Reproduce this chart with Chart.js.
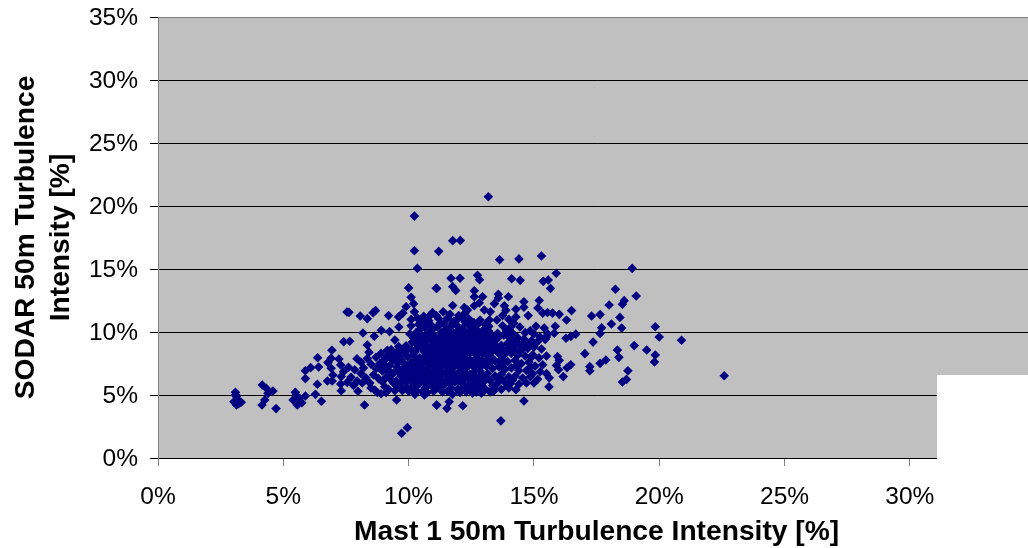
<!DOCTYPE html>
<html>
<head>
  <title>Turbulence Intensity</title>
  <script src="https://cdn.jsdelivr.net/npm/chart.js"></script>
<style>
html, body {
  margin: 0;
  padding: 0;
  background: #ffffff;
  overflow: hidden;
}

#wrap {
  position: relative;
  width: 1028px;
  height: 548px;
  overflow: hidden;
}

#blank {
  position: absolute;
  left: 937px;
  top: 375px;
  width: 91px;
  height: 173px;
  background: #ffffff;
}
</style>
</head>
<body>

  <div id="wrap">
    <canvas id="scatterChart" width="1040" height="548" style="width:1040px;height:548px"></canvas>
    <div id="blank"></div>
  </div>

  <script>
    const xAxisTitle = 'Mast 1 50m Turbulence Intensity [%]';
    const yAxisTitle = ['SODAR 50m Turbulence', 'Intensity [%]'];
    const xTicks = [0, 5, 10, 15, 20, 25, 30, 35];
    const yTicks = [0, 5, 10, 15, 20, 25, 30, 35];

    // [mast %, sodar %]
    const leftTail = [
      [3.09,5.21],[3.13,4.87],[3.32,4.42],[3.13,4.21],[3.03,4.47],[3.19,4.6],[3.1,5.0],[3.22,4.3],
      [4.16,5.79],[4.32,5.53],[4.59,5.32],[4.39,5.13],[4.26,4.6],[4.15,4.21],[4.71,3.92],
      [5.48,5.21],[5.39,4.6],[5.56,4.21],[5.74,4.39],[5.65,4.74],[5.88,4.92],[5.5,4.95],
      [6.28,5.05],[6.52,4.5],[6.36,5.85],[5.88,6.3],[5.88,6.93],[6.09,7.17],[6.41,7.22],[6.37,7.96],
      [6.94,8.55],[6.91,7.91],[6.78,7.57],[7.22,7.86],[7.29,7.38],[6.91,7.12],[6.98,6.59],[6.76,6.11],
      [6.95,6.11],[7.31,6.46],[7.29,5.87],[7.31,5.34],[7.41,9.23],[7.65,9.26],[7.94,7.88],[7.54,11.59],
      [7.62,11.56],[8.07,11.27],[8.35,11.06],[8.68,11.7],[8.58,11.53],[8.18,9.92],[8.63,9.66],[8.91,10.13],
      [8.35,8.97],[8.42,8.4],[8.35,7.9],[8.5,7.45],[8.2,7.15],[7.85,7.0],[7.6,7.2],[7.4,6.85],[7.7,6.4],
      [7.95,6.1],[8.15,5.95],[7.98,5.3],[8.5,5.55],[8.75,5.2],[8.65,5.4],[8.9,5.1],[9.05,5.65],[9.1,5.2],
      [9.2,5.45],[8.24,4.21],[9.52,4.6],[9.95,2.41],[9.72,1.96],[9.55,5.7],[8.8,6.3],[8.6,6.6],[8.95,6.9],
      [9.1,7.3],[9.0,7.75],[9.2,8.15],[9.3,8.6],[9.45,9.37],[9.24,10.03],[9.61,10.4],[9.2,11.3],[9.6,11.2],
      [9.77,11.5],[9.9,12.0],[10.0,13.5],[10.1,12.75],[10.2,12.25],[10.23,11.6],[10.1,11.0],[10.23,19.2],
      [10.23,16.45],[10.35,15.05],[9.55,7.2],[9.35,7.8],[9.7,6.5],[9.5,6.1],[9.75,8.5],
      [8.1,6.7],[8.3,6.35],[7.55,6.0],[7.8,5.75],[8.1,7.6],[8.7,7.1],[8.85,7.5],[8.7,8.0],[8.9,8.3],
      [8.45,5.95],[8.95,6.05],[9.25,6.5],[9.2,6.95]
    ];

    const upperScatter = [
      [11.2,16.4],[11.1,13.47],[13.18,20.74],[11.76,17.25],[12.06,17.27],[13.63,15.74],[14.4,15.8],
      [15.3,16.03],[15.89,14.66],[15.37,14.02],[15.57,14.13],[14.11,14.23],[14.45,14.1],[15.66,13.46],
      [12.75,14.5],[12.83,14.15],[11.69,14.26],[12.05,14.26],[11.76,13.6],[11.88,13.3],[11.12,13.46],
      [12.62,13.27],[12.62,12.8],[12.95,12.8],[13.58,13.0],[13.58,12.7],[13.98,12.8],[15.21,12.5],
      [14.6,12.4],[14.6,11.96],[11.76,12.1],[12.22,11.95],[12.35,11.75],[12.62,12.08],[12.82,12.3],
      [13.42,12.25],[13.02,11.75],[13.26,11.6],[13.82,12.08],[13.88,11.72],[14.28,11.8],[14.28,11.2],
      [14.77,11.3],[15.16,11.9],[15.35,11.5],[15.54,11.55],[15.74,11.5],[16.01,11.4],[16.5,11.7],
      [16.3,10.95],[13.22,10.95],[13.52,10.95],[14.44,10.4],[15.08,10.45],[15.41,10.32],[15.85,10.45]
    ];

    const rightTail = [
      [16.28,9.5],[16.47,9.65],[16.67,9.83],[15.81,9.9],[15.94,8.06],[16.01,7.75],[16.32,7.16],[16.47,7.4],
      [16.17,6.46],[15.61,6.36],[15.6,5.65],[15.0,5.95],[14.28,5.42],[13.39,5.3],[14.6,4.52],[13.68,2.95],
      [11.12,4.2],[11.62,4.47],[11.53,3.94],[12.16,4.15],[10.63,5.0],[11.12,4.21],
      [18.92,15.05],[18.25,13.39],[19.08,12.86],[18.6,12.49],[18.53,12.2],[18.0,12.14],[17.3,11.27],
      [17.64,11.38],[18.43,11.16],[18.09,10.63],[18.5,10.32],[17.7,10.34],[17.64,9.89],[19.84,10.42],
      [20.0,9.6],[20.89,9.34],[17.36,9.2],[17.03,8.28],[18.33,8.57],[18.39,7.99],[19.0,8.92],[19.5,8.57],
      [19.84,8.17],[19.81,7.62],[17.87,7.78],[17.64,7.51],[17.23,7.25],[17.23,6.93],[18.75,6.93],[18.69,6.24],
      [18.53,6.03],[22.59,6.53],[15.98,7.0]
    ];

    const core = [
      [10.35,11.1],[10.6,11.25],[10.8,10.9],[10.95,11.55],[11.2,11.05],[11.38,11.6],[11.55,11.1],[11.8,10.85],
      [12.0,11.3],[12.25,11.5],[12.4,11.05],[12.6,10.75],[12.85,10.95],[13.05,10.6],[13.75,11.3],[14.0,11.0],
      [10.1,10.5],[10.4,10.6],[10.65,10.35],[10.9,10.55],[11.15,10.4],[11.4,10.65],[11.65,10.35],[11.9,10.55],
      [12.15,10.3],[12.4,10.55],[12.7,10.2],[12.95,10.1],[13.2,10.05],[13.75,10.5],[14.05,10.35],[14.15,9.9],
      [14.65,9.95],[15.0,9.85],[15.25,9.6],[15.55,9.85],
      [10.05,9.85],[10.3,9.95],[10.55,9.7],[10.8,9.9],[11.05,9.65],[11.3,9.95],[11.55,9.7],
      [11.8,9.9],[12.05,9.65],[12.3,9.85],[12.55,9.6],[12.8,9.8],[13.05,9.55],[13.3,9.7],[13.55,9.5],[13.8,9.75],
      [14.05,9.5],[14.35,9.55],[14.6,9.45],[14.9,9.3],[15.15,9.25],[15.45,9.4],
      [9.6,8.85],[9.9,8.9],[10.15,9.2],[10.4,9.35],[10.65,9.1],[10.9,9.3],[11.15,9.05],[11.4,9.3],
      [11.65,9.05],[11.9,9.25],[12.15,9.0],[12.4,9.2],[12.65,8.95],[12.9,9.15],[13.15,8.9],[13.4,9.1],[13.7,8.95],
      [13.95,9.1],[14.2,8.9],[14.45,8.95],[14.75,8.7],[15.0,8.8],[15.3,8.65],
      [9.3,8.4],[9.55,8.45],[9.85,8.3],[10.1,8.6],[10.35,8.75],[10.6,8.5],[10.85,8.7],[11.1,8.45],[11.35,8.65],
      [11.6,8.45],[11.85,8.65],[12.1,8.4],[12.35,8.6],[12.6,8.4],[12.85,8.55],[13.1,8.35],[13.35,8.5],[13.6,8.3],
      [13.85,8.45],[14.1,8.3],[14.4,8.4],[14.65,8.1],[14.95,8.2],[15.2,7.95],[15.5,8.1],
      [9.1,7.9],[9.4,7.95],[9.7,7.8],[9.95,8.05],[10.2,8.15],[10.45,7.95],[10.7,8.15],[10.95,7.9],[11.2,8.1],
      [11.45,7.85],[11.7,8.05],[11.95,7.85],[12.2,8.0],[12.45,7.8],[12.7,7.95],[12.95,7.75],[13.2,7.9],[13.45,7.7],
      [13.7,7.85],[13.95,7.65],[14.25,7.75],[14.5,7.5],[14.8,7.6],[15.05,7.3],[15.35,7.4],
      [9.25,7.35],[9.85,7.45],[10.1,7.6],[10.35,7.4],[10.6,7.55],[10.85,7.35],[11.1,7.5],[11.35,7.3],[11.6,7.5],
      [11.85,7.3],[12.1,7.45],[12.35,7.25],[12.6,7.4],[12.85,7.2],[13.1,7.3],[13.35,7.1],[13.6,7.25],[13.85,7.05],
      [14.1,7.15],[14.4,6.95],[14.7,6.95],[14.95,6.7],[15.25,6.85],[15.5,6.7],
      [9.4,6.75],[9.95,6.9],[10.2,7.0],[10.45,6.85],[10.7,7.0],[10.95,6.8],[11.2,6.95],[11.45,6.75],[11.7,6.9],
      [11.95,6.7],[12.2,6.85],[12.45,6.65],[12.6,6.8],[12.9,6.6],[13.15,6.7],[13.45,6.5],[13.7,6.65],[14.0,6.45],
      [14.25,6.5],[14.55,6.35],[14.85,6.45],[15.15,6.25],
      [9.75,6.1],[10.0,6.3],[10.25,6.45],[10.5,6.25],[10.75,6.4],[11.0,6.2],[11.25,6.4],[11.5,6.15],[11.75,6.3],
      [12.0,6.1],[12.25,6.3],[12.5,6.05],[12.75,6.2],[13.0,6.05],[13.25,6.15],[13.55,5.95],[13.8,6.1],[14.05,5.9],
      [14.4,5.85],[14.7,5.95],
      [9.9,5.6],[10.15,5.7],[10.4,5.85],[10.65,5.55],[10.9,5.75],[11.15,5.6],[11.4,5.8],[11.7,5.55],[11.95,5.45],
      [12.2,5.65],[12.5,5.45],[12.75,5.55],[13.05,5.5],[13.4,5.55],[13.7,5.45],[14.0,5.55],
      [10.75,5.2],[11.0,5.3],[11.35,5.25],[12.3,5.25],[12.7,5.25],[13.0,5.3],
      [10.7,8.9],[11.3,8.2],[11.5,8.8],[11.75,7.7],[12.05,7.2],[11.05,7.2],[10.5,7.1],[10.85,8.0],[11.6,7.15],
      [11.25,7.8],[12.3,8.3],[12.0,8.7],[11.45,9.5],[12.5,9.1],[11.1,6.6],[11.9,6.5],[12.7,7.6],[13.3,8.0]
    ];

    // second pass over the solid part of the cloud
    const coreFill = [
      [9.65,8.1],[9.95,8.65],[10.25,8.4],[10.5,9.2],[10.75,8.3],[11.0,8.85],[11.25,8.35],[11.55,8.25],
      [11.8,8.3],[12.05,8.15],[12.45,8.35],[12.75,8.25],[13.0,8.75],[13.25,8.65],[13.8,8.15],[14.35,8.15],[14.9,8.0],
      [9.55,7.55],[9.8,7.15],[10.05,7.3],[10.3,7.75],[10.55,7.75],[10.8,7.65],[11.05,7.75],[11.35,7.6],[11.55,7.7],
      [11.85,7.55],[12.15,7.7],[12.4,7.55],[12.65,7.15],[12.95,7.45],[13.2,7.55],[13.75,7.55],[14.3,7.35],[14.85,7.2],
      [9.6,6.85],[9.85,6.65],[10.1,6.7],[10.35,6.6],[10.6,6.7],[10.85,6.55],[11.3,6.65],[11.6,6.5],[11.85,6.05],
      [12.1,6.55],[12.35,6.45],[12.65,6.45],[12.85,6.9],[13.1,6.35],[13.6,6.35],[14.15,6.2],
      [9.4,5.95],[9.65,5.85],[9.9,6.0],[10.15,6.05],[10.4,6.1],[10.65,5.95],[10.9,6.05],[11.15,5.95],[11.4,6.0],
      [11.65,5.9],[12.15,5.9],[12.4,5.8],[12.65,5.85],[12.9,5.8],[13.35,5.75],[13.95,5.7],
      [10.3,5.35],[10.55,5.25],[11.55,5.3],[12.05,5.2],[12.55,5.15],[13.25,5.25],
      [10.2,9.55],[10.45,9.65],[10.7,9.5],[10.95,9.6],[11.2,9.45],[11.7,9.45],
      [11.95,9.55],[12.2,9.45],[12.45,9.45],[12.7,9.4],[12.95,9.4],[13.45,9.35],[14.2,9.25],[14.8,9.05],
      [10.45,10.2],[10.7,10.75],[10.95,10.2],[11.25,10.7],[11.5,10.25],[11.75,10.7],[12.0,10.15],
      [12.25,10.8],[12.55,10.35],[13.1,10.2],[13.9,10.1],[14.85,10.1],
      [10.55,11.0],[10.85,11.3],[11.1,11.3],[11.65,11.4],[11.95,11.0],[12.15,11.15],
      [14.2,10.7],[15.5,9.6],[15.9,7.35],
      [9.4,8.1],[9.15,8.55],[9.1,6.4],[9.3,6.2],[9.45,5.35],
      [9.75,5.35],[10.0,5.3],[10.25,5.05],[11.75,5.05],[12.9,5.15],[8.9,7.1],[9.05,7.05]
    ];

    // darkest band of the cloud, around 8% to 10%
    const midFill = [
      [11.05,9.2],[11.25,9.0],[11.5,9.15],[11.75,9.3],[11.85,8.95],[12.1,9.2],[12.25,8.85],[12.3,9.55],[12.5,8.75],
      [12.6,9.25],[12.8,9.0],[12.85,9.55],[13.05,9.2],[13.1,9.75],[13.25,9.3],[13.45,8.85],[12.05,8.85],[11.2,8.65],
      [11.45,8.45],[11.7,8.75],[11.95,8.45],[12.2,8.55],[12.45,8.65],[12.7,8.6],[12.95,8.25],[13.15,8.15],[13.5,8.6],
      [11.6,9.95],[11.85,9.6],[12.15,9.75],[12.4,9.95],[12.65,9.7],[12.95,9.95],[13.2,10.45],[12.75,10.6],[12.45,10.1],
      [13.55,9.9],[13.95,9.75],[14.35,9.15],[14.6,9.1],[14.25,8.6],[14.0,8.75],[14.55,8.65],[13.75,8.6],[11.0,8.35],
      [10.8,8.45],[10.55,8.85],[10.3,9.1],[10.85,9.6],[11.3,9.7]
    ];

    const scatterData = [...leftTail, ...upperScatter, ...rightTail, ...core, ...coreFill, ...midFill].map(p => ({ x: p[0], y: p[1] }));

    // grey plot area behind the points
    const plotBackground = {
      id: 'plotBackground',
      beforeDraw(chart) {
        const a = chart.chartArea;
        chart.ctx.fillStyle = '#C0C0C0';
        chart.ctx.fillRect(a.left, a.top, a.right - a.left, a.bottom - a.top);
      }
    };

    const ctx = document.getElementById('scatterChart').getContext('2d');
    new Chart(ctx, {
      type: 'scatter',
      data: {
        datasets: [{
          data: scatterData,
          backgroundColor: '#000080',
          borderWidth: 0,
          pointStyle: 'rectRot',
          pointRadius: 4.8
        }]
      },
      options: {
        responsive: false,
        animation: false,
        layout: { padding: { top: 17, right: 4, left: 8, bottom: 0 } },
        plugins: { legend: { display: false }, tooltip: { enabled: false } },
        scales: {
          x: {
            type: 'linear',
            min: 0,
            max: 35,
            afterBuildTicks: axis => { axis.ticks = xTicks.map(v => ({ value: v })); },
            afterFit: axis => { axis.height = 90; axis.paddingLeft = 0; axis.paddingRight = 0; },
            border: { color: '#000000' },
            grid: { drawOnChartArea: false, tickColor: '#808080', tickLength: 8 },
            ticks: {
              maxRotation: 0,
              color: '#000000',
              padding: 17,
              font: { family: 'Liberation Sans', size: 24.5 },
              callback: v => v + '%'
            },
            title: {
              display: true,
              text: xAxisTitle,
              color: '#000000',
              padding: { top: 0, bottom: -1 },
              font: { family: 'Liberation Sans', size: 28.2, weight: 'bold' }
            }
          },
          y: {
            min: 0,
            max: 35,
            afterBuildTicks: axis => { axis.ticks = yTicks.map(v => ({ value: v })); },
            afterFit: axis => { axis.width = 150; axis.paddingTop = 0; axis.paddingBottom = 0; },
            border: { color: '#808080' },
            grid: {
              color: c => (c.tick && c.tick.value === 35 ? '#808080' : '#000000'),
              tickColor: '#000000',
              tickLength: 8
            },
            ticks: {
              color: '#000000',
              padding: 12,
              labelOffset: 1,
              font: { family: 'Liberation Sans', size: 24.5 },
              callback: v => v + '%'
            },
            title: {
              display: true,
              text: yAxisTitle,
              color: '#000000',
              padding: { top: 0, bottom: 0 },
              font: { family: 'Liberation Sans', size: 28.2, weight: 'bold', lineHeight: 1.27 }
            }
          }
        }
      },
      plugins: [plotBackground]
    });
  </script>

</body>
</html>
